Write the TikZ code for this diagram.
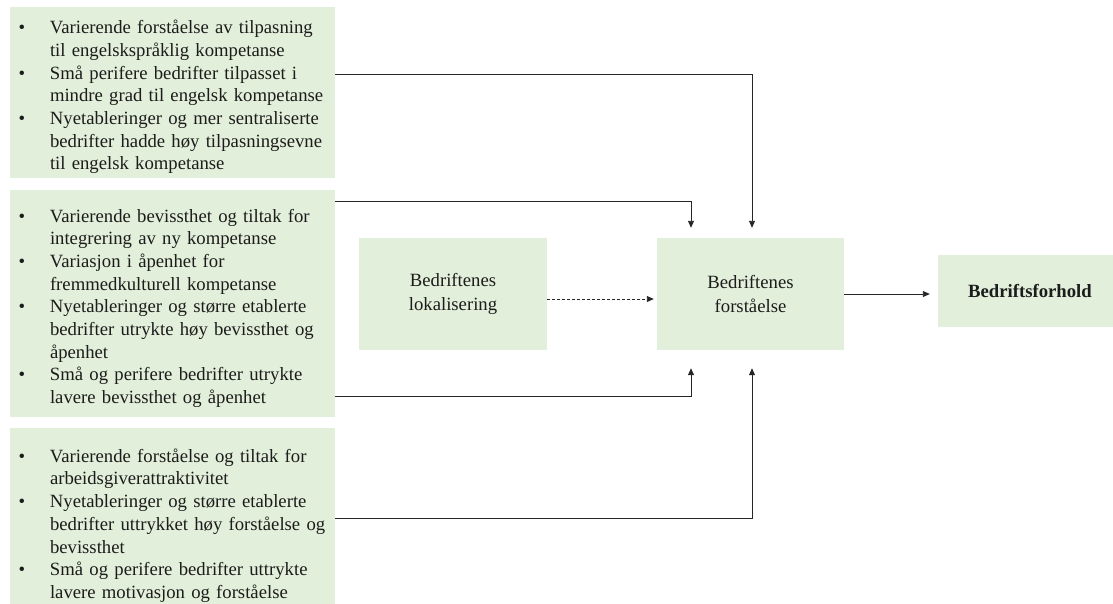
\documentclass[tikz,border=0pt]{standalone}
\usepackage{fontspec}
\setmainfont{Liberation Serif}
\usetikzlibrary{arrows.meta}
\definecolor{boxgreen}{HTML}{E2EFDA}
\definecolor{inkline}{HTML}{262626}
\definecolor{inktext}{HTML}{1C1C1C}
% one bullet point with a hanging indent; lines are broken with \newline
\newcommand{\bpt}[1]{\par\noindent\hangindent=40pt\hangafter=1\makebox[40pt][l]{\hspace{8.5pt}\textbullet}#1\par}
\begin{document}
\begin{tikzpicture}[x=1pt,y=-1pt,
  box/.style={fill=boxgreen, inner sep=0pt, text=inktext},
  listbox/.style={box, minimum width=325pt, text width=325pt,
    font=\fontsize{18.7}{22.7}\selectfont},
  midbox/.style={box, align=center, font=\fontsize{18.7}{24}\selectfont},
  conn/.style={draw=inkline, line width=0.9pt, -{Triangle[length=7pt,width=6pt]}},
]
\useasboundingbox (0,0) rectangle (1113,603);

% factor lists
\node[listbox, minimum height=171pt] (b1) at (172.5,92.5) {%
  \bpt{Varierende forståelse av tilpasning\newline til engelskspråklig kompetanse}%
  \bpt{Små perifere bedrifter tilpasset i\newline mindre grad til engelsk kompetanse}%
  \bpt{Nyetableringer og mer sentraliserte\newline bedrifter hadde høy tilpasningsevne\newline til engelsk kompetanse}};

\node[listbox, minimum height=227pt] (b2) at (172.5,303.5) {%
  \bpt{Varierende bevissthet og tiltak for\newline integrering av ny kompetanse}%
  \bpt{Variasjon i åpenhet for\newline fremmedkulturell kompetanse}%
  \bpt{Nyetableringer og større etablerte\newline bedrifter utrykte høy bevissthet og\newline åpenhet}%
  \bpt{Små og perifere bedrifter utrykte\newline lavere bevissthet og åpenhet}};

\node[listbox, minimum height=186pt] (b3) at (172.5,521) {%
  \bpt{Varierende forståelse og tiltak for\newline arbeidsgiverattraktivitet}%
  \bpt{Nyetableringer og større etablerte\newline bedrifter uttrykket høy forståelse og\newline bevissthet}%
  \bpt{Små og perifere bedrifter uttrykte\newline lavere motivasjon og forståelse}};

% central boxes
\node[midbox, minimum width=188pt, minimum height=112pt] (l) at (453,294) {Bedriftenes\\lokalisering};
\node[midbox, minimum width=187pt, minimum height=112pt] (f) at (750.5,294) {Bedriftenes\\forståelse};
\node[midbox, minimum width=184pt, minimum height=72pt, font=\bfseries\fontsize{18.7}{24}\selectfont] (r) at (1030,291) {Bedriftsforhold};

% connectors
\draw[conn, shorten >=10pt] ([yshift=18.5pt]b1.east) -| ([xshift=1.5pt]f.north);
\draw[conn, shorten >=10pt] ([yshift=102.5pt]b2.east) -| ([xshift=-59.5pt]f.north);
\draw[conn, shorten >=18pt] ([yshift=-92.5pt]b2.east) -| ([xshift=-59.5pt]f.south);
\draw[conn, shorten >=18pt] ([yshift=3pt]b3.east) -| ([xshift=1.5pt]f.south);
\draw[conn, dash pattern=on 3pt off 2pt, shorten >=3pt] ([yshift=-5pt]l.east) -- ([yshift=-5pt]f.west);
\draw[conn, shorten >=8pt] (f.east) -- (r.west |- f.east);
\end{tikzpicture}
\end{document}
